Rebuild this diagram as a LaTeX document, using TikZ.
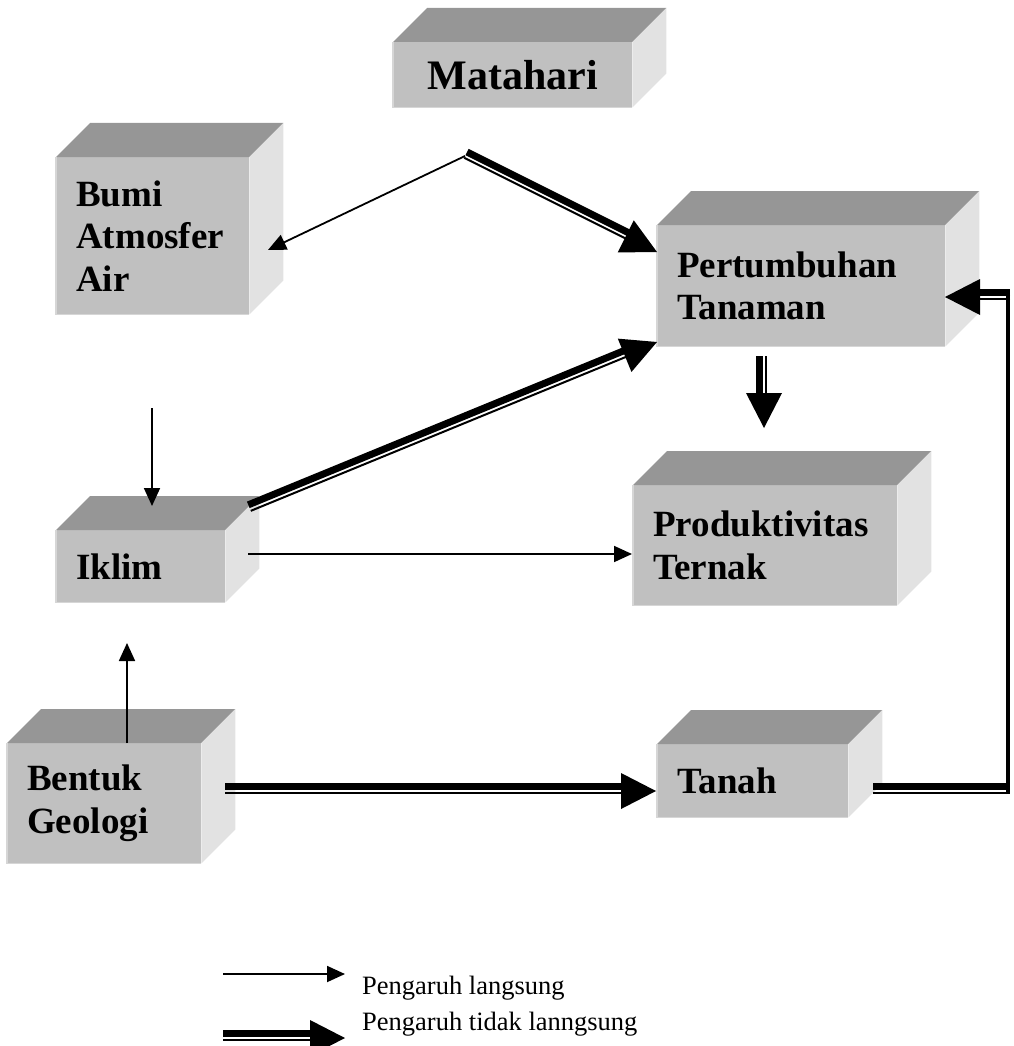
\documentclass[tikz,border=0pt]{standalone}
\usepackage{fontspec}
\setmainfont{Liberation Serif}
\usetikzlibrary{calc,arrows.meta}
\definecolor{boxfront}{RGB}{192,192,192}
\definecolor{boxtop}{RGB}{150,150,150}
\definecolor{boxside}{RGB}{226,226,226}
\definecolor{boxedge}{RGB}{214,214,214}
\tikzset{
  face/.style={fill=boxfront, inner ysep=0pt, inner xsep=20pt, align=left,
    font=\bfseries\fontsize{37}{42.5}\selectfont, anchor=north west},
  bigtitle/.style={align=center, font=\bfseries\fontsize{42}{46}\selectfont},
  thinarrow/.style={line width=1.8pt, -{Triangle[length=18pt,width=16pt]}},
  legendtext/.style={anchor=base west, inner sep=0pt, font=\fontsize{26.5}{30}\selectfont},
}
% #1 extra style, #2 name, #3 x,y of front top-left, #4 width, #5 height, #6 text
\newcommand\cubebox[6][]{%
  \pgfmathsetmacro\cubetw{#4-40}%
  \node[face, minimum width=#4pt, minimum height=#5pt, text width=\cubetw pt, #1] (#2) at (#3) {#6};
  \fill[boxtop] (#2.north west) -- ++(34,-34) -- ($(#2.north east)+(34,-34)$) -- (#2.north east) -- cycle;
  \fill[boxside] (#2.north east) -- ++(34,-34) -- ($(#2.south east)+(34,-34)$) -- (#2.south east) -- cycle;
  \draw[boxedge, line width=1.5pt] (#2.north west) -- (#2.south west) -- (#2.south east);
}
% #1 thick side angle, #2 thin side angle, #3 start, #4 end
\newcommand\dblarr[4]{%
  \coordinate (hb) at ($(#4)!35pt!(#3)$);
  \coordinate (le) at ($(#4)!33pt!(#3)$);
  \draw[line width=7pt] ($(#3)!4.5pt!#1:(#4)$) -- ($(le)!4.5pt!#1:(#4)$);
  \draw[line width=2pt] ($(#3)!2pt!#2:(#4)$) -- ($(le)!2pt!#2:(#4)$);
  \fill ($(hb)!18pt!90:(#4)$) -- (#4) -- ($(hb)!18pt!-90:(#4)$) -- cycle;
}
\begin{document}
\begin{tikzpicture}[x=1pt, y=-1pt]
\useasboundingbox (0,0) rectangle (1013,1046);

\cubebox[bigtitle]{mat}{393,42}{239}{65}{Matahari}
\cubebox{bumi}{56,157}{193}{157}{Bumi\\Atmosfer\\Air}
\cubebox{pert}{657,225}{288}{121}{Pertumbuhan\\Tanaman}
\cubebox{prod}{633,485}{264}{120}{Produktivitas\\Ternak}
\cubebox{iklim}{56,530}{169}{72}{Iklim}
\cubebox{bentuk}{7,743}{194}{120}{Bentuk\\Geologi}
\cubebox{tanah}{657,744}{191}{73}{Tanah}

% connector end points
\coordinate (sunV) at (465,156);
\coordinate (bumiIn) at (268,250);
\coordinate (pertInA) at (657,252);
\coordinate (bumiOut) at (152,408);
\coordinate (iklimIn) at (152,506);
\coordinate (iklimOutA) at (250,509);
\coordinate (pertInB) at (657,342);
\coordinate (iklimOutB) at (248,554);
\coordinate (prodIn) at (632,554);
\coordinate (pertOut) at (764,356);
\coordinate (prodTop) at (764,428);
\coordinate (bentukOutA) at (127,743);
\coordinate (iklimInB) at (127,643);
\coordinate (bentukOutB) at (225,791);
\coordinate (tanahIn) at (656,791);
\coordinate (tanahOut) at (873,791);
\coordinate (cornerB) at (1008,791);
\coordinate (cornerT) at (1008,297);
\coordinate (pertInC) at (945,297);

% direct influences
\draw[thinarrow] (sunV) -- (bumiIn);
\draw[thinarrow] (bumiOut) -- (iklimIn);
\draw[thinarrow] (iklimOutB) -- (prodIn);
\draw[thinarrow] (bentukOutA) -- (iklimInB);

% indirect influences
\dblarr{90}{-90}{sunV}{pertInA}
\dblarr{90}{-90}{iklimOutA}{pertInB}
\dblarr{-90}{90}{pertOut}{prodTop}
\dblarr{90}{-90}{bentukOutB}{tanahIn}
\draw[line width=7pt] ($(tanahOut)+(0,-4.5)$) -- ($(cornerB)+(2,-4.5)$);
\draw[line width=2pt] ($(tanahOut)+(0,2)$) -- ($(cornerB)+(2,2)$);
\draw[line width=4pt] ($(cornerB)+(0,3)$) -- ($(cornerT)+(0,-8)$);
\dblarr{-90}{90}{$(cornerT)+(2,0)$}{pertInC}

% legend
\coordinate (lgA1) at (223,974);
\coordinate (lgA2) at (345,974);
\draw[thinarrow] (lgA1) -- (lgA2);
\node[legendtext] (lg1) at (362,994) {Pengaruh langsung};
\coordinate (lgB1) at (223,1038);
\coordinate (lgB2) at (345,1038);
\dblarr{90}{-90}{lgB1}{lgB2}
\node[legendtext] (lg2) at (362,1030) {Pengaruh tidak lanngsung};
\end{tikzpicture}
\end{document}
